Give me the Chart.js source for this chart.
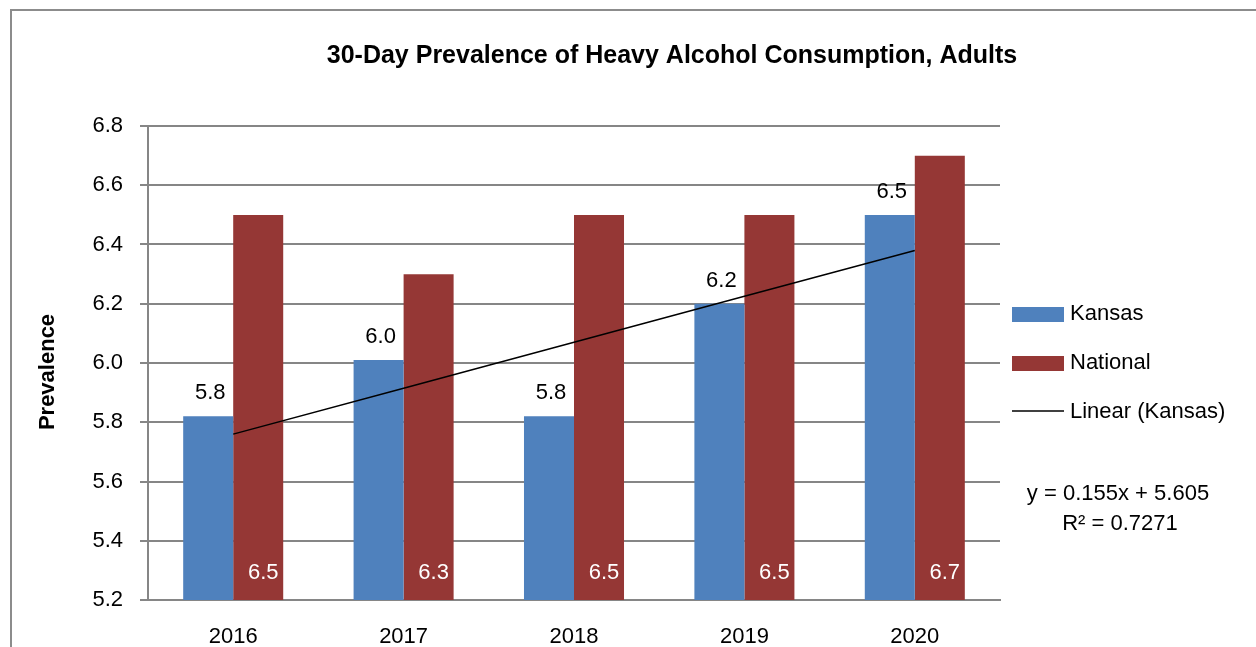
<!DOCTYPE html>
<html>
<head>
<meta charset="utf-8">
<script src="https://cdn.jsdelivr.net/npm/chart.js@4"></script>
<style>
  html, body { margin: 0; padding: 0; background: #fff; }
  #wrap { width: 1256px; height: 647px; position: relative; }
</style>
</head>
<body>
<div id="wrap"><canvas id="alcoholChart"></canvas></div>
<script>
// Chart data
var years = ['2016', '2017', '2018', '2019', '2020'];
var kansas = [5.82, 6.01, 5.82, 6.2, 6.5];
var national = [6.5, 6.3, 6.5, 6.5, 6.7];
var yTicks = [5.2, 5.4, 5.6, 5.8, 6.0, 6.2, 6.4, 6.6, 6.8];

var FONT = "'Liberation Sans', Arial, sans-serif";
var GRID = '#868686';

// least squares trend for Kansas (x = 1..n), like Excel's linear trendline
function linearFit(ys) {
    var n = ys.length, sx = 0, sy = 0, sxy = 0, sxx = 0;
    ys.forEach(function (y, i) {
        var x = i + 1;
        sx += x; sy += y; sxy += x * y; sxx += x * x;
    });
    var slope = (n * sxy - sx * sy) / (n * sxx - sx * sx);
    var icpt = (sy - slope * sx) / n;
    var mean = sy / n, ssTot = 0, ssRes = 0;
    ys.forEach(function (y, i) {
        var f = slope * (i + 1) + icpt;
        ssRes += (y - f) * (y - f);
        ssTot += (y - mean) * (y - mean);
    });
    return { slope: slope, icpt: icpt, r2: 1 - ssRes / ssTot };
}
var fit = linearFit(kansas);
var trend = kansas.map(function (v, i) { return fit.slope * (i + 1) + fit.icpt; });

// frame, titles, value labels and legend drawn on top
var extras = {
    id: 'extras',
    afterDraw: function (chart) {
        var ctx = chart.ctx;
        var area = chart.chartArea;
        ctx.save();
        // outer frame (top and left edges visible)
        ctx.strokeStyle = '#8c8c8c';
        ctx.lineWidth = 2;
        ctx.beginPath();
        ctx.moveTo(11, 647);
        ctx.lineTo(11, 10);
        ctx.lineTo(1256, 10);
        ctx.stroke();

        ctx.fillStyle = '#000';
        ctx.textAlign = 'center';
        ctx.textBaseline = 'middle';

        // chart title
        ctx.font = 'bold 25px ' + FONT;
        ctx.fillText('30-Day Prevalence of Heavy Alcohol Consumption, Adults', 672, 56);

        // y axis title
        ctx.save();
        ctx.translate(48, 372);
        ctx.rotate(-Math.PI / 2);
        ctx.font = 'bold 22px ' + FONT;
        ctx.fillText('Prevalence', 0, 0);
        ctx.restore();

        ctx.font = '22px ' + FONT;
        // Kansas labels above bars
        chart.getDatasetMeta(0).data.forEach(function (bar, i) {
            ctx.fillStyle = '#000';
            ctx.fillText(kansas[i].toFixed(1), bar.x + 2, bar.y - 23);
        });
        // National labels inside, near the base
        chart.getDatasetMeta(1).data.forEach(function (bar, i) {
            ctx.fillStyle = '#fff';
            ctx.fillText(national[i].toFixed(1), bar.x + 5, area.bottom - 27);
        });

        // legend
        ctx.textAlign = 'left';
        ctx.fillStyle = '#4F81BD';
        ctx.fillRect(1012, 307, 52, 15);
        ctx.fillStyle = '#953735';
        ctx.fillRect(1012, 356, 52, 15);
        ctx.strokeStyle = '#000';
        ctx.lineWidth = 1.5;
        ctx.beginPath();
        ctx.moveTo(1012, 411);
        ctx.lineTo(1064, 411);
        ctx.stroke();
        ctx.fillStyle = '#000';
        ctx.fillText('Kansas', 1070, 314);
        ctx.fillText('National', 1070, 363);
        ctx.fillText('Linear (Kansas)', 1070, 412);

        // trend equation
        ctx.textAlign = 'center';
        ctx.fillText('y = ' + fit.slope.toFixed(3) + 'x + ' + fit.icpt.toFixed(3), 1118, 494);
        ctx.fillText('R\u00b2 = ' + fit.r2.toFixed(4), 1120, 524);
        ctx.restore();
    }
};

document.addEventListener('DOMContentLoaded', function () {
    var ctx = document.getElementById('alcoholChart');
    new Chart(ctx, {
        data: {
            labels: years,
            datasets: [{
                type: 'bar',
                label: 'Kansas',
                data: kansas,
                backgroundColor: '#4F81BD',
                categoryPercentage: 0.587,
                barPercentage: 1,
                order: 2
            }, {
                type: 'bar',
                label: 'National',
                data: national,
                backgroundColor: '#953735',
                categoryPercentage: 0.587,
                barPercentage: 1,
                order: 2
            }, {
                type: 'line',
                label: 'Linear (Kansas)',
                data: trend,
                borderColor: '#000',
                borderWidth: 1.5,
                pointRadius: 0,
                fill: false,
                order: 1
            }]
        },
        options: {
            responsive: true,
            maintainAspectRatio: false,
            animation: false,
            layout: { padding: { left: 0, right: 256, top: 126, bottom: 0 } },
            plugins: {
                legend: { display: false },
                tooltip: { enabled: false },
                title: { display: false }
            },
            scales: {
                x: {
                    grid: { display: false, drawTicks: false },
                    border: { color: GRID, width: 2 },
                    ticks: {
                        color: '#000',
                        font: { family: FONT, size: 22 },
                        padding: 24
                    },
                    afterFit: function (scale) { scale.height = 47; }
                },
                y: {
                    min: 5.2,
                    max: 6.8,
                    afterBuildTicks: function (scale) {
                        scale.ticks = yTicks.map(function (v) { return { value: v }; });
                    },
                    grid: { color: GRID, lineWidth: 2, tickLength: 8 },
                    border: { color: GRID, width: 2 },
                    ticks: {
                        color: '#000',
                        font: { family: FONT, size: 22 },
                        padding: 17,
                        callback: function (v) { return Number(v).toFixed(1); }
                    },
                    afterFit: function (scale) { scale.width = 148; }
                }
            }
        },
        plugins: [extras]
    });
});
</script>
</body>
</html>
